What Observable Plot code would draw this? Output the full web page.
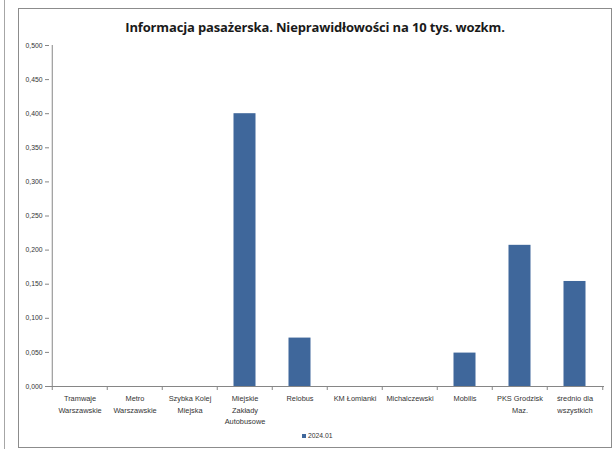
<!DOCTYPE html>
<html>
<head>
<meta charset="utf-8">
<script src="https://cdn.jsdelivr.net/npm/d3@7"></script>
<script src="https://cdn.jsdelivr.net/npm/@observablehq/plot@0.6"></script>
<style>
  html, body { margin: 0; padding: 0; background: #fff; }
  body { width: 616px; height: 451px; position: relative; overflow: hidden; font-family: "Liberation Sans", Arial, sans-serif; }
  #leftline { position: absolute; left: 4px; top: 0; width: 1px; height: 449px; background: #a6a6a6; }
  #frame { position: absolute; left: 18px; top: 8px; width: 594px; height: 440px; box-sizing: border-box; border: 1px solid #8c8c8c; background: #fff; }
  #title { position: absolute; left: 0; width: 592px; top: 9px; text-align: center; font-weight: bold; font-size: 13px; color: #1a1a1a; font-family: "Open Sans", "Liberation Sans", sans-serif; letter-spacing: -0.15px; }
  #chart { position: absolute; left: 0; top: 0; }
  #legend { position: absolute; left: 283px; top: 423px; font-size: 6.8px; color: #333; display: flex; align-items: center; }
  #legend .sw { width: 4px; height: 4px; background: #3f679b; margin-right: 2px; }
</style>
</head>
<body>
<div id="leftline"></div>
<div id="frame">
  <div id="chart"></div>
  <div id="title">Informacja pasażerska. Nieprawidłowości na 10 tys. wozkm.</div>
  <div id="legend"><span class="sw"></span><span id="legtxt"></span></div>
</div>
<script>
const categories = [
  "Tramwaje\nWarszawskie",
  "Metro\nWarszawskie",
  "Szybka Kolej\nMiejska",
  "Miejskie\nZakłady\nAutobusowe",
  "Relobus",
  "KM Łomianki",
  "Michalczewski",
  "Mobilis",
  "PKS Grodzisk\nMaz.",
  "średnio dla\nwszystkich"
];
const values = [0, 0, 0, 0.400, 0.071, 0, 0, 0.049, 0.207, 0.154];
const seriesName = "2024.01";
const yTicks = [0, 0.05, 0.1, 0.15, 0.2, 0.25, 0.3, 0.35, 0.4, 0.45, 0.5];

const data = categories.map((c, i) => ({cat: c, value: values[i]}));

const W = 592, H = 432;
const mL = 30, mR = 7, mT = 36, mB = 55;
const step = (W - mL - mR) / categories.length;
const barW = 22.5;
const inset = (step - barW) / 2;
const tickLen = 0.5 / (H - mT - mB) * 4; // ~4px in data units
const fmt = d => d3.format(".3f")(d).replace(".", ",");
const axisColor = "#868686";

const chart = Plot.plot({
  width: W,
  height: H,
  marginLeft: mL,
  marginRight: mR,
  marginTop: mT,
  marginBottom: mB,
  style: { fontFamily: "Liberation Sans, Arial, sans-serif", fontSize: "6.5px", color: "#333", background: "transparent" },
  x: { domain: categories, padding: 0, axis: null },
  y: { domain: [0, 0.5], axis: null },
  marks: [
    Plot.barY(data, { x: "cat", y: "value", fill: "#3f679b", insetLeft: inset, insetRight: inset }),
    // y axis line
    Plot.ruleX([categories[0]], { x: d => d, y1: 0, y2: 0.5, stroke: axisColor, dx: -step / 2 }),
    // y ticks + labels
    Plot.axisY({ ticks: yTicks, tickSize: 4, tickPadding: 3, tickFormat: fmt, stroke: axisColor, fill: "#333", fontSize: 6.8, label: null }),
    // x axis line
    Plot.ruleY([0], { stroke: axisColor }),
    // x boundary ticks
    Plot.ruleX(categories, { x: d => d, dx: -step / 2, y1: 0, y2: -tickLen, stroke: axisColor }),
    Plot.ruleX([categories[categories.length - 1]], { x: d => d, dx: step / 2, y1: 0, y2: -tickLen, stroke: axisColor }),
    // x labels
    Plot.text(categories, { x: d => d, y: () => 0, dy: 7, text: d => d, lineAnchor: "top", textAnchor: "middle", fill: "#333", fontSize: 7.4, lineHeight: 1.52 })
  ]
});

document.getElementById("chart").appendChild(chart);
document.getElementById("legtxt").textContent = seriesName;
</script>
</body>
</html>
